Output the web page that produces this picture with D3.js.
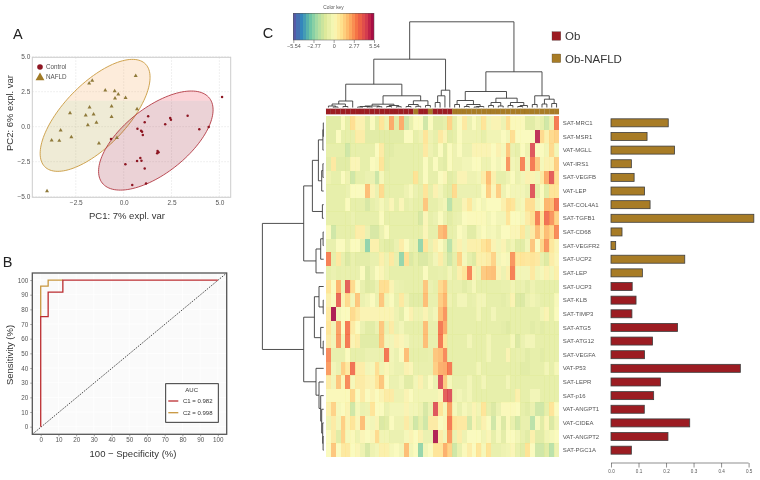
<!DOCTYPE html>
<html>
<head>
<meta charset="utf-8">
<style>
html,body{margin:0;padding:0;background:#fff}
svg{display:block;font-family:"Liberation Sans",Arial,sans-serif;filter:blur(0.35px)}
</style>
<script src="https://cdn.jsdelivr.net/npm/d3@7/dist/d3.min.js"></script>
</head>
<body>
<svg id="c" width="760" height="480"></svg>
<script>
// ---------- DATA ----------
const pcaControl = [[5.14,2.12],[3.34,.79],[1.28,.74],[1.10,.31],[2.43,.62],[2.47,.5],[2.17,.17],[3.95,-.19],[4.44,-.02],[.72,-.14],[.91,-.29],[.96,-.36],[1.0,-.6],[-.66,-.88],[1.77,-1.74],[1.82,-1.83],[1.75,-1.9],[.87,-2.24],[.93,-2.43],[.70,-2.45],[.09,-2.69],[1.10,-2.98],[1.17,-4.05],[.45,-4.17]];
const pcaNafld = [[-1.64,3.29],[-1.80,3.10],[.63,3.64],[-.96,2.6],[-.47,2.55],[-.28,2.31],[-.45,2.02],[.10,2.07],[-1.78,1.38],[-.63,1.45],[.70,1.26],[-2.80,.98],[-1.98,.81],[-1.57,.88],[-.63,.71],[-1.42,.29],[-1.87,.12],[-3.29,-.26],[-2.73,-.74],[-3.76,-.98],[-3.36,-1.0],[-1.29,-1.19],[-.35,-.79],[-4.0,-4.6]];
// ellipse: centre x, centre y, half width, half height, correlation
const ellipseControl = [1.68,-.99,2.99,3.54,.62];
const ellipseNafld = [-1.49,.81,2.87,4.0,.68];
const pcaXTicks = [-2.5,0,2.5,5];
const pcaYTicks = [-5,-2.5,0,2.5,5];

const rocC1 = [[0,0],[0,75],[4.2,75],[4.2,91.7],[12.5,91.7],[12.5,100],[100,100]];
const rocC2 = [[0,75],[0,95.8],[4.2,95.8],[4.2,100],[12.5,100]];
const rocTicks = [0,10,20,30,40,50,60,70,80,90,100];
const rocLegend = ["C1 = 0.982","C2 = 0.998"];

const keyTicks = [-5.54,-2.77,0,2.77,5.54];
const geneLabels = ["SAT-MRC1","SAT-MSR1","VAT-MGLL","VAT-IRS1","SAT-VEGFB","VAT-LEP","SAT-COL4A1","SAT-TGFB1","SAT-CD68","SAT-VEGFR2","SAT-UCP2","SAT-LEP","SAT-UCP3","SAT-KLB","SAT-TIMP3","SAT-ATG5","SAT-ATG12","SAT-VEGFA","VAT-P53","SAT-LEPR","SAT-p16","VAT-ANGPT1","VAT-CIDEA","VAT-ANGPT2","SAT-PGC1A"];
const barValues = [.208,.131,.231,.074,.084,.122,.142,.519,.040,.017,.268,.114,.077,.091,.076,.242,.151,.122,.470,.180,.155,.121,.286,.207,.074];
const barGroups = [1,1,1,1,1,1,1,1,1,1,1,1,0,0,0,0,0,0,0,0,0,0,0,0,0];
const barTicks = [0,.1,.2,.3,.4,.5];
const groupNames = ["Ob","Ob-NAFLD"];
const groupColors = ["#9c1c22","#a87c26"];
// 0 = Ob, 1 = Ob-NAFLD, one per column
const columnGroups = [0,0,0,0,0,0,0,0,0,0,0,0,0,0,0,0,0,0,1,0,0,1,0,0,0,0,1,1,1,1,1,1,1,1,1,1,1,1,1,1,1,1,1,1,1,1,1,1];
const heatValues = [
[-1,-1,-1,0,-.8,1.2,.4,.4,-1,0,-1,1,-.5,2.4,-1,2.4,-1.5,-.7,0,0,-1.5,0,-1,-1,-.8,1.5,-.8,0,.8,-.6,0,-.5,1,-.3,.3,.3,-.5,1.2,.1,.1,.1,-1,-1,-.5,-.8,-1.5,-.5,3.3],
[-1,-1,0,-.8,-.8,-.8,.6,.6,-1,-1,-1,-1,-1,-1,-1,-1,0,0,-.8,-.5,1,-.5,-.8,.8,.3,-1,-.8,0,-.5,-.5,-.5,-.5,-.8,-.4,-.4,-.4,0,-.3,1.2,0,0,0,0,5,1.3,.5,1.3,1.5],
[-.8,-.8,-.8,-.8,-1.5,-.8,-.8,-.8,-.8,-.8,0,.7,-1,-1,-.8,-.8,-.8,-.8,-.8,-.8,.8,-.5,-.8,0,-1,0,-.5,0,-.6,-.6,.3,.3,.3,.3,0,.4,-.2,1.8,-.6,-.8,0,-.5,4.2,0,0,-.3,1.3,-.3],
[-1,.8,-1,-1,-1,.2,.2,-.8,-.8,0,-.2,1,-1,-.8,-.8,-.8,-.8,-.8,-.8,-.8,0,-.8,0,-.8,-1,0,-.5,-.5,-.3,-.3,0,0,-.5,-.5,0,-.3,0,2.8,-.3,-.5,3.1,-.3,3.3,1.7,-.2,.4,.4,1.6],
[-.5,-.8,-.8,0,-.5,-1.5,-.8,-.8,-.6,-.6,-1.6,-.2,-.8,-.8,-.8,-.8,-.8,-.8,1.1,-.8,0,-.8,-.8,0,.2,-1,-.8,.3,.3,-.5,-.5,-.3,.6,2,.5,-.8,-.8,-.5,0,-.6,-.3,.4,.3,-.3,.8,2.4,4,1.2],
[-.8,-.8,-.8,-.8,-.6,0,0,0,2,.3,-.6,1.3,-.8,-.8,-.8,-.8,-.5,-.1,-.6,-.8,1,-.8,.4,-.3,-.8,-1,1.3,-.6,-.6,-.6,-.6,-.6,0,1.6,.2,1.6,-.5,0,-.3,-.3,-.3,-.6,4.2,-.8,0,-1,1,1],
[-.8,-.8,-.8,-.8,0,-.8,-.8,-.8,-1.3,-.8,-.6,-.2,-.6,.2,-.8,.2,-.8,-.6,-.8,-.8,1.8,-.8,-.8,-.5,-.3,-2,-.8,-.8,.3,.9,-.3,0,-.3,0,0,0,.5,1.2,1,-.4,-.2,1.2,1.2,-.3,0,2.2,2,3.4],
[-.8,-.8,-.8,-.8,-.8,-.6,-.8,-.8,-.8,-.8,-.8,0,-.8,-.8,-.8,-.8,-.8,-.8,-.8,-1.3,.2,-.8,-.6,0,-.6,-1,-.7,-.6,0,.1,.1,.1,.1,-.3,0,-.3,-.3,1,0,0,-.2,.7,1.2,3.2,1,3.5,2.8,1.5],
[0,-1.5,-.8,-.8,-.8,-.8,.6,.6,-.6,-1.3,-1.3,-.6,0,-.8,-.8,-.8,-.8,-.8,-.8,-.8,.2,-.8,-.8,2,2.3,-.8,-.7,0,-.3,-1,-1,-.3,0,-.3,-.2,-.5,0,0,.2,.2,.9,-.6,.7,2,.8,2,1.4,3],
[-.7,-.7,0,0,-.6,0,0,-.7,-2.8,.5,.5,-.8,-1,-1,-.6,.6,0,-.6,-.6,-2.7,1,-.6,.5,0,-.6,-2,-.5,.4,-.3,.5,.5,.5,1,1.3,.3,-.3,.3,-.7,-.4,-1,-1,-.3,1.8,0,1.4,2.8,.9,.3],
[3.2,-.8,.8,-.7,-1.2,-.7,-.9,-.9,-.9,-.7,-.7,.5,-.5,.8,-.7,-2.7,1.2,-1.2,-.8,-1.2,-1.2,-.8,-.3,.6,-.7,-1.5,-.8,1.5,-.2,-.8,-1.1,.5,.5,.7,1.5,-.3,.1,-.2,2.8,.9,1,.9,1,.8,-.7,-1.1,.6,.2],
[-.8,-.6,-.8,-.7,-.7,-.7,-.7,0,-1.2,-.6,0,.2,-.5,-.8,-.8,-.8,-.8,-.8,-.8,-.8,0,-.8,-.8,-.7,-.8,-.3,-.8,.5,1,3.1,.4,-.5,1.7,1.9,2,.3,-.5,.5,3.2,-.3,-.3,-.3,.8,-.4,-.2,.4,-.3,.5],
[1,0,2.2,-.5,4,1.3,0,-.7,-1.1,-1,-.6,1.2,1.2,.3,-.6,-.7,-.8,-.8,-.8,-.8,1.8,-.6,-.8,1.3,1.8,-.7,-.7,-.7,-1,-.7,-.2,-.8,-.8,-.8,-.8,-.8,-.7,-.7,-.4,-.7,-.6,-.9,-.5,-.8,-.8,-.8,-.8,-.8],
[.5,0,3.8,.3,1.3,-.3,1.8,-.6,-.4,0,-.6,1.8,-.4,0,-.7,.8,-.5,-1,-1,-1,2,-.7,-.7,1.6,2.2,-.5,-.8,-.3,-.3,-.8,-.7,-.3,-.3,-.8,-.8,-.8,-.9,-.7,.3,-1.2,-1.2,-.6,-.4,-.6,-.8,-.8,-.8,-.1],
[.8,5.4,-.3,0,0,1.3,.8,.3,.3,.3,.3,.3,.3,.3,-.5,-.9,0,.4,-.5,-.5,.3,-.6,-.3,2,2.8,-.8,-.8,-.8,-.8,-.8,-.8,-.3,-.8,-.8,-.3,-.8,-.8,-.8,-.8,-.8,-.8,-.8,-.8,-.8,-.4,.3,-.8,0],
[1,-.3,2.6,0,3.3,.7,0,-.6,-1,-1,-.6,1.8,-.6,.7,-.6,-.3,-.8,-.8,-.8,-.8,2,-.7,-.7,3.3,2.4,-.8,-.8,-.8,-.8,-.8,-.8,-.8,-.8,-.8,-.8,-.8,-.9,-1.1,-.8,-.8,-.8,-.8,-1,-.8,-1,-.8,-.8,-.8],
[.7,-.3,2.7,-.4,3.3,.3,.6,-1,-1,-1,-1,1.8,-.3,-.3,.4,.2,-.3,-.7,-.7,-.7,2,-.7,-.7,3.3,1,-.8,-.8,-.8,-.8,-.3,-.8,-.8,-.8,-.3,-.8,-.8,-.8,-.8,-.2,-1.2,-.6,-.3,-.3,-.8,-.8,-.8,-.8,-.8],
[3,-.7,-.7,-.7,0,-.8,-.8,-.8,-.6,-.6,-.6,-.6,3.4,-.3,-.6,0,2,-.8,-.8,-.8,-.8,-.7,1.8,2,3,-.8,-.8,-.8,-.8,-.8,-.8,-.8,-.8,-.3,-.8,-.8,-.8,.3,-.8,-.7,-.7,-1,-.8,-.8,-1,-.8,-.8,-.8],
[2.7,-.3,-.6,1.6,.8,3.5,.6,.6,-.3,-.2,1.2,-.4,.2,-.4,-.6,-.6,.4,.2,-.7,-.7,-.7,-.7,1.6,2.3,2.4,3.3,-.8,-.8,-.8,-.8,-.8,-.3,-.8,-.8,-.8,-.8,-.8,-.8,-.8,-.8,-1,-1,-.8,-.8,-.8,-.3,-.8,-.2],
[.7,-.3,1.8,.2,3,-.2,.7,.7,.4,.3,1,1.8,0,-.6,-.6,-.3,-1,-1,-.3,.4,-.6,0,-.6,4.3,1.7,-.2,-.7,-.7,-.7,-.3,-.8,-.8,-.3,-.8,-.8,-.8,-.8,-.3,-.8,-.8,-.8,-.8,-.8,-.8,-.8,-.8,-.8,-.8],
[.1,.1,.1,.1,.1,1.4,0,.7,0,.3,0,.3,.7,.7,-.5,-.5,.3,0,-.4,-.4,-.4,-.4,-.4,.2,4,4.3,-.5,-.3,-.6,-.3,-.8,-.8,-.8,-.8,-.8,-.8,-.8,-.8,-.8,.5,-.8,-.8,-.3,-.3,-.8,-.8,-.8,-.8],
[.5,1.5,-.2,0,.3,-1.5,-.2,-.6,-.5,1,0,0,-.6,-.3,-.3,-.3,.3,-.3,-.3,-.5,-1.3,-.6,4.2,1,-.2,2.6,-.2,-.7,-.2,-.5,.3,-.4,1,-.8,-1.2,-.6,.1,.1,.1,0,-.8,-1,-.6,-1.5,-1.5,-.8,1,0],
[-.5,.7,-.3,1.6,.3,1,.2,2,-.2,-.3,.3,-1.2,-1,0,-.5,-.5,.7,-.5,-1.5,-.8,-1.5,.7,.7,0,.2,3.3,1,.8,.8,-1.4,.3,-.7,.4,0,-1.5,-.1,-1.2,.1,-.7,-1.4,-.7,-.7,-2,-.1,-1,.2,-1.2,-.4],
[0,.7,-1,1.5,-.2,.1,-.5,.2,0,.2,1.3,-.4,-.4,-.6,-.6,-.6,-.2,.3,0,.4,-.6,-.6,5.3,.6,-.3,2.7,-.6,.6,-.5,0,0,0,-.4,.2,-.8,-.2,-.9,0,0,-.3,-.7,-1,.5,-1,-1,-.4,-.2,0],
[0,1.8,0,.8,.8,0,.2,-.5,-1.3,-.5,-.3,.5,.5,-.2,0,-.3,2,-.3,0,-2.7,-.3,0,1,1,2.3,1.5,-1.5,-.7,.1,.6,0,1,-.2,1.1,-.7,-.7,-.5,-.4,.2,-.7,-1,1.1,0,-1.5,-1.5,-1,-2,-.5]
];
// dendrograms: [merge height, left, right]; 0 = leaf
const columnTree = [85.7,
  [48.3,
    [23.3,
      [6.5,[3.5,[1.5,0,[.5,0,0]],[1,0,0]],0],
      [11.7,
        [3.3,[1.5,[1,[.5,0,0],[.6,0,0]],[.8,0,0]],[2,[1,0,0],[.8,0,0]]],
        [6.7,[3,[1,0,0],[1.2,0,0]],[2,0,0]]]],
    [17.3,[11.7,[5,0,0],0],0]],
  [35.7,
    [16,
      [7,[3,0,0],[3,[1,0,0],[1,[.5,0,0],0]]],
      [9.3,[5,[2,0,0],[1.5,0,0]],[5,[2,0,0],[2,[1,0,0],0]]]],
    [11.7,[3,0,0],[8.3,[3.5,0,0],[4,0,0]]]]];
const rowTree = [61.3,
  [20,
    [11.3,[5.3,[.8,[.4,0,0],0],[2,[.8,0,0],0]],[1.3,0,0]],
    [7.7,[3,[.6,0,0],0],0]],
  [20,
    [9.3,[4.7,0,[.5,0,0]],[3,0,[.5,0,0]]],
    [7.7,0,[4.7,0,[3,0,[2,0,[1,0,[.6,0,0]]]]]]]];

// ---------- SET-UP ----------
const svg = d3.select("#c");
const TXT = "#555";
const heatColor = d3.scaleLinear()
  .domain([-5.54,-4.43,-3.32,-2.22,-1.11,0,1.11,2.22,3.32,4.43,5.54])
  .range(["#5e4fa2","#3288bd","#66c2a5","#abdda4","#dce89a","#f9f9b8","#fee08b","#fdae61","#f46d43","#d53e4f","#9e0142"]);

function panelLabel(t,x,y){ svg.append("text").attr("x",x).attr("y",y).attr("font-size",14.5).attr("fill","#222").text(t); }
function rotatedTitle(t,x,y,s){ svg.append("text").attr("transform",`translate(${x},${y}) rotate(-90)`).attr("text-anchor","middle").attr("font-size",s).attr("fill","#333").text(t); }
function styleAxis(g,size){
  g.selectAll("text").attr("font-size",size).attr("fill",TXT).attr("font-family","Liberation Sans");
  g.selectAll("line").attr("stroke","#666").attr("stroke-width",.6);
  g.select(".domain").remove();
}
const minus = s => String(s).replace("-","−");

// ---------- PANEL A ----------
(function(){
  const L=32.3,R=230.7,T=57.3,B=197.3;
  const x=d3.scaleLinear().domain([-4.77,5.59]).range([L,R]);
  const y=d3.scaleLinear().domain([-5,5]).range([196.7,56.7]);
  const g=svg.append("g");
  g.selectAll(".gx").data(pcaXTicks).join("line").attr("x1",d=>x(d)).attr("x2",d=>x(d)).attr("y1",T).attr("y2",B).attr("stroke","#e3e3e3").attr("stroke-width",.7).attr("stroke-dasharray","1.5,1.5");
  g.selectAll(".gy").data(pcaYTicks).join("line").attr("y1",d=>y(d)).attr("y2",d=>y(d)).attr("x1",L).attr("x2",R).attr("stroke","#e3e3e3").attr("stroke-width",.7).attr("stroke-dasharray","1.5,1.5");
  const ell=e=>{const pts=d3.range(0,6.2832,.05).map(t=>[x(e[0]+e[2]*Math.cos(t)),y(e[1]+e[3]*Math.cos(t-Math.acos(e[4])))]);return d3.line().curve(d3.curveLinearClosed)(pts);};
  const split=y(1.86);
  const defs=svg.append("defs");
  defs.append("clipPath").attr("id","upper").append("rect").attr("x",0).attr("y",0).attr("width",260).attr("height",split);
  defs.append("clipPath").attr("id","lower").append("rect").attr("x",0).attr("y",split).attr("width",260).attr("height",240-split);
  const draw=(e,top,bot,stroke)=>{
    g.append("path").attr("d",ell(e)).attr("fill",top).attr("fill-opacity",.2).attr("clip-path","url(#upper)");
    g.append("path").attr("d",ell(e)).attr("fill",bot).attr("fill-opacity",.2).attr("clip-path","url(#lower)");
    g.append("path").attr("d",ell(e)).attr("fill","none").attr("stroke",stroke).attr("stroke-width",.9);
  };
  draw(ellipseNafld,"#f5a04a","#b09a30","#c99a3e");
  draw(ellipseControl,"#ee2a3a","#9a1f30","#b33a44");
  g.append("rect").attr("x",L).attr("y",T).attr("width",R-L).attr("height",B-T).attr("fill","none").attr("stroke","#ccc").attr("stroke-width",1);
  const tri=d3.symbol().type(d3.symbolTriangle);
  g.selectAll(".t").data(pcaNafld).join("path").attr("d",tri.size(7)).attr("transform",d=>`translate(${x(d[0])},${y(d[1])})`).attr("fill","#8f7a3a");
  g.selectAll(".c").data(pcaControl).join("circle").attr("cx",d=>x(d[0])).attr("cy",d=>y(d[1])).attr("r",1.25).attr("fill","#8e1622");
  const ax=svg.append("g").attr("transform",`translate(0,${B})`).call(d3.axisBottom(x).tickValues(pcaXTicks).tickSize(0).tickPadding(3).tickFormat(d=>minus(d3.format(".1f")(d))));
  styleAxis(ax,6.5);
  const ay=svg.append("g").attr("transform",`translate(${L},0)`).call(d3.axisLeft(y).tickValues(pcaYTicks).tickSize(0).tickPadding(2).tickFormat(d=>minus(d3.format(".1f")(d))));
  styleAxis(ay,6.5);
  svg.append("text").attr("x",127).attr("y",219).attr("text-anchor","middle").attr("font-size",9.5).attr("fill","#333").text("PC1: 7% expl. var");
  rotatedTitle("PC2: 6% expl. var",13,113,9.5);
  svg.append("circle").attr("cx",40).attr("cy",67).attr("r",2.8).attr("fill","#8e1622");
  svg.append("path").attr("d",d3.symbol().type(d3.symbolTriangle).size(34)).attr("transform","translate(40,77.6)").attr("fill","#a07a25");
  ["Control","NAFLD"].forEach((t,i)=>svg.append("text").attr("x",46).attr("y",69.2+i*10.2).attr("font-size",6.3).attr("fill",TXT).text(t));
})();
panelLabel("A",13,39);

// ---------- PANEL B ----------
(function(){
  const L=32.3,R=226.7,T=273,B=434.3;
  const x=d3.scaleLinear().domain([-4.75,105]).range([L,R]);
  const y=d3.scaleLinear().domain([-5.2,104.8]).range([B,T]);
  const g=svg.append("g");
  g.append("rect").attr("x",L).attr("y",T).attr("width",R-L).attr("height",B-T).attr("fill","#fafafa");
  g.selectAll(".gx").data(rocTicks).join("line").attr("x1",d=>x(d)).attr("x2",d=>x(d)).attr("y1",T).attr("y2",B).attr("stroke","#fff").attr("stroke-width",.8);
  g.selectAll(".gy").data(rocTicks).join("line").attr("y1",d=>y(d)).attr("y2",d=>y(d)).attr("x1",L).attr("x2",R).attr("stroke","#fff").attr("stroke-width",.8);
  g.append("line").attr("x1",x(-4.75)).attr("y1",y(-5.2)).attr("x2",x(105)).attr("y2",y(104.8)).attr("stroke","#222").attr("stroke-width",.8).attr("stroke-dasharray","1.6,1.2");
  const line=d3.line().x(d=>x(d[0])).y(d=>y(d[1]));
  g.append("path").attr("d",line(rocC2)).attr("fill","none").attr("stroke","#c8963e").attr("stroke-width",1.3);
  g.append("path").attr("d",line(rocC1)).attr("fill","none").attr("stroke","#bb2d30").attr("stroke-width",1.3);
  g.append("rect").attr("x",L).attr("y",T).attr("width",R-L).attr("height",B-T).attr("fill","none").attr("stroke","#555").attr("stroke-width",1.3);
  const ax=svg.append("g").attr("transform",`translate(0,${B})`).call(d3.axisBottom(x).tickValues(rocTicks).tickSize(2).tickPadding(1.5));
  styleAxis(ax,6.3);
  const ay=svg.append("g").attr("transform",`translate(${L},0)`).call(d3.axisLeft(y).tickValues(rocTicks).tickSize(2).tickPadding(2));
  styleAxis(ay,6.3);
  svg.append("text").attr("x",133).attr("y",457).attr("text-anchor","middle").attr("font-size",9.5).attr("fill","#333").text("100 − Specificity (%)");
  rotatedTitle("Sensitivity (%)",13,355,9.5);
  svg.append("rect").attr("x",165.7).attr("y",383.7).attr("width",52.6).attr("height",38.6).attr("fill","#fff").attr("stroke","#222").attr("stroke-width",.9);
  svg.append("text").attr("x",191.7).attr("y",392.2).attr("text-anchor","middle").attr("font-size",6).attr("fill","#333").text("AUC");
  rocLegend.forEach((t,i)=>{
    const yy=401+i*11.7;
    svg.append("line").attr("x1",168.3).attr("x2",178.3).attr("y1",yy).attr("y2",yy).attr("stroke",i?"#c8963e":"#bb2d30").attr("stroke-width",1.3);
    svg.append("text").attr("x",183).attr("y",yy+2.1).attr("font-size",6).attr("fill","#333").text(t);
  });
})();
panelLabel("B",2.7,266.7);

// ---------- PANEL C ----------
(function(){
  const H0=326,H1=559,V0=116,V1=457;
  const nc=heatValues[0].length, nr=heatValues.length;
  const x=d3.scaleBand().domain(d3.range(nc)).range([H0,H1]);
  const y=d3.scaleBand().domain(d3.range(nr)).range([V0,V1]);
  // heat cells
  const cells=heatValues.flatMap((r,i)=>r.map((v,j)=>({i,j,v})));
  svg.append("g").attr("shape-rendering","crispEdges").selectAll("rect").data(cells).join("rect")
    .attr("x",d=>x(d.j)).attr("y",d=>y(d.i)).attr("width",x.bandwidth()+.4).attr("height",y.bandwidth()+.4).attr("fill",d=>heatColor(d.v)).attr("fill-opacity",.9);
  // annotation strip
  svg.append("g").selectAll("rect").data(columnGroups).join("rect")
    .attr("x",(d,j)=>x(j)).attr("y",108.7).attr("width",x.bandwidth()).attr("height",5.6).attr("fill",d=>groupColors[d]).attr("stroke","#000").attr("stroke-opacity",.12).attr("stroke-width",.4);
  // dendrograms
  function layout(tree){
    const root=d3.hierarchy(tree,d=>Array.isArray(d)?d.slice(1):null);
    let k=0;
    root.eachAfter(n=>{ n.pos = n.children ? d3.mean(n.children,c=>c.pos) : k++; n.h = n.children ? n.data[0] : 0; });
    return root;
  }
  const colRoot=layout(columnTree), rowRoot=layout(rowTree);
  const cx=i=>x(0)+(i+.5)*x.step(), ry=i=>y(0)+(i+.5)*y.step();
  const hCol=d3.scaleLinear().domain([0,85.7]).range([107.5,21.8]);
  const hRow=d3.scaleLinear().domain([0,61.3]).range([323.7,262.4]);
  const dend=svg.append("g").attr("fill","none").attr("stroke","#3c3c3c").attr("stroke-width",.9);
  dend.selectAll(".c").data(colRoot.descendants().filter(n=>n.children)).join("path").attr("d",n=>{
    const a=n.children[0],b=n.children[1];
    return `M${cx(a.pos)},${hCol(a.h)}V${hCol(n.h)}H${cx(b.pos)}V${hCol(b.h)}`;
  });
  dend.selectAll(".r").data(rowRoot.descendants().filter(n=>n.children)).join("path").attr("d",n=>{
    const a=n.children[0],b=n.children[1];
    return `M${hRow(a.h)},${ry(a.pos)}H${hRow(n.h)}V${ry(b.pos)}H${hRow(b.h)}`;
  });
  // gene labels
  svg.append("g").selectAll("text").data(geneLabels).join("text").attr("x",562.7).attr("y",(d,i)=>ry(i)+2.1).attr("font-size",6).attr("fill","#555").text(d=>d);
  // bars
  const bx=d3.scaleLinear().domain([0,.5]).range([611,748.6]);
  svg.append("g").selectAll("rect").data(barValues).join("rect")
    .attr("x",bx(0)).attr("y",(d,i)=>y(i)+y.bandwidth()/2-4).attr("width",d=>bx(d)-bx(0)).attr("height",8)
    .attr("fill",(d,i)=>groupColors[barGroups[i]]).attr("stroke","#3f3f3f").attr("stroke-width",.8);
  const bax=svg.append("g").attr("transform","translate(0,463)").call(d3.axisBottom(bx).tickValues(barTicks).tickSize(4.5).tickPadding(2).tickFormat(d3.format(".1f")));
  bax.selectAll("text").attr("font-size",4.6).attr("fill","#555").attr("font-family","Liberation Sans");
  bax.selectAll("line").attr("stroke","#444").attr("stroke-width",.6);
  bax.select(".domain").attr("stroke","#444").attr("stroke-width",.6).attr("d",`M${bx(0)},0H${bx(.5)}`);
  // colour key
  const kx=d3.scaleLinear().domain([-5.54,5.54]).range([293.3,374]);
  const bands=d3.range(-5.54,5.54,11.08/26);
  svg.append("g").attr("shape-rendering","crispEdges").selectAll("rect").data(bands).join("rect").attr("x",d=>kx(d)).attr("y",13.3).attr("width",81/26+.3).attr("height",26.7).attr("fill",d=>heatColor(d+11.08/52));
  svg.append("rect").attr("x",293.3).attr("y",13.3).attr("width",80.7).attr("height",26.7).attr("fill","none").attr("stroke","#555").attr("stroke-width",.5);
  const kax=svg.append("g").attr("transform","translate(0,40)").call(d3.axisBottom(kx).tickValues(keyTicks).tickSize(3).tickPadding(1.5).tickFormat(d=>d===0?"0":minus(d)));
  kax.selectAll("text").attr("font-size",5.4).attr("fill","#555").attr("font-family","Liberation Sans");
  kax.selectAll("line").attr("stroke","#444").attr("stroke-width",.5);
  kax.select(".domain").remove();
  svg.append("text").attr("x",333.5).attr("y",8.5).attr("text-anchor","middle").attr("font-size",4.8).attr("fill","#555").text("Color key");
  // group legend
  groupNames.forEach((t,i)=>{
    svg.append("rect").attr("x",552).attr("y",31.7+i*22.3).attr("width",8.8).attr("height",8.6).attr("fill",groupColors[i]).attr("stroke","#444").attr("stroke-width",.3);
    svg.append("text").attr("x",565).attr("y",40+i*22.6).attr("font-size",11.5).attr("fill","#333").text(t);
  });
})();
panelLabel("C",262.7,38);
</script>
</body>
</html>
